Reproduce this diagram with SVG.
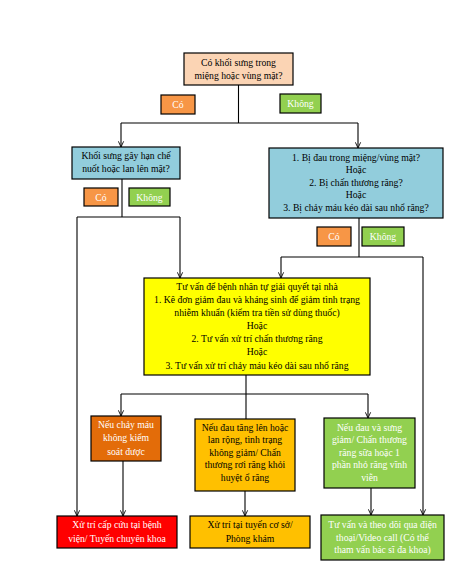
<svg xmlns="http://www.w3.org/2000/svg" width="460" height="578" viewBox="0 0 460 578">
<defs>
<marker id="arr" viewBox="0 0 8 8" refX="7.5" refY="4" markerWidth="7" markerHeight="7" markerUnits="userSpaceOnUse" orient="auto">
<path d="M1,1 L7.5,4 L1,7" fill="none" stroke="#000" stroke-width="1"/>
</marker>
<style>
rect{stroke:#000;stroke-width:1.2}
text{font-family:"Liberation Serif","Times New Roman",serif;font-size:9.7px;text-anchor:middle;fill:#000}
.w{fill:#fff}
.c path{fill:none;stroke:#000;stroke-width:1.1}
</style>
</defs>
<rect width="460" height="578" fill="#fff" style="stroke:none"/>
<g class="c" id="connectors">
<path d="M238.5 85V123M121 123H358"/>
<path d="M121 123V147" marker-end="url(#arr)"/>
<path d="M358 123V148" marker-end="url(#arr)"/>
<path d="M122 179V217M77 217H180"/>
<path d="M77 217V516" marker-end="url(#arr)"/>
<path d="M180 217V278" marker-end="url(#arr)"/>
<path d="M359 218V257M281 257H423"/>
<path d="M281 257V278" marker-end="url(#arr)"/>
<path d="M423 257V515" marker-end="url(#arr)"/>
<path d="M246 375V419M121 394H368"/>
<path d="M121 394V416" marker-end="url(#arr)"/>
<path d="M368 394V418" marker-end="url(#arr)"/>
<path d="M123 461V516" marker-end="url(#arr)"/>
<path d="M245 491V516" marker-end="url(#arr)"/>
<path d="M371 488V515" marker-end="url(#arr)"/>
</g>
<g id="q1">
<rect x="184" y="53" width="109" height="32" fill="#FBD4B4"/>
<text x="238.5" y="65.5">Có khối sưng trong</text>
<text x="238.5" y="78.5">miệng hoặc vùng mặt?</text>
</g>
<g id="q1-yes">
<rect x="161" y="95" width="34" height="19" fill="#F79646"/>
<text class="w" x="178" y="108">Có</text>
</g>
<g id="q1-no">
<rect x="280" y="94" width="41" height="19" fill="#92D050"/>
<text class="w" x="300.5" y="107">Không</text>
</g>
<g id="q2">
<rect x="72" y="147" width="108" height="32" fill="#92CDDC"/>
<text x="126" y="159">Khối sưng gây hạn chế</text>
<text x="126" y="172">nuốt hoặc lan lên mặt?</text>
</g>
<g id="q2-yes">
<rect x="84" y="188" width="34" height="18" fill="#F79646"/>
<text class="w" x="101" y="200.5">Có</text>
</g>
<g id="q2-no">
<rect x="129" y="188" width="41" height="18" fill="#92D050"/>
<text class="w" x="149.5" y="200.5">Không</text>
</g>
<g id="q3">
<rect x="269" y="148" width="174" height="70" fill="#92CDDC"/>
<text x="356" y="160.5">1. Bị đau trong miệng/vùng mặt?</text>
<text x="356" y="173">Hoặc</text>
<text x="356" y="185.5">2. Bị chấn thương răng?</text>
<text x="356" y="198">Hoặc</text>
<text x="356" y="210.5">3. Bị chảy máu kéo dài sau nhổ răng?</text>
</g>
<g id="q3-yes">
<rect x="317" y="227" width="34" height="19" fill="#F79646"/>
<text class="w" x="334" y="240">Có</text>
</g>
<g id="q3-no">
<rect x="362" y="227" width="42" height="19" fill="#92D050"/>
<text class="w" x="383" y="240">Không</text>
</g>
<g id="home">
<rect x="144" y="278" width="226" height="97" fill="#FFFF00"/>
<text x="257" y="289.5">Tư vấn để bệnh nhân tự giải quyết tại nhà</text>
<text x="257" y="302.7">1. Kê đơn giảm đau và kháng sinh để giảm tình trạng</text>
<text x="257" y="315.8">nhiễm khuẩn (kiểm tra tiền sử dùng thuốc)</text>
<text x="257" y="329">Hoặc</text>
<text x="257" y="342.2">2. Tư vấn xử trí chấn thương răng</text>
<text x="257" y="355.3">Hoặc</text>
<text x="257" y="368.5">3. Tư vấn xử trí chảy máu kéo dài sau nhổ răng</text>
</g>
<g id="bleed">
<rect x="91" y="416" width="70" height="45" fill="#E36C09"/>
<text class="w" x="126" y="427.5">Nếu chảy máu</text>
<text class="w" x="126" y="441">không kiểm</text>
<text class="w" x="126" y="454.5">soát được</text>
</g>
<g id="worse">
<rect x="195" y="419" width="100" height="72" fill="#FFC000"/>
<text x="245" y="430.5">Nếu đau tăng lên hoặc</text>
<text x="245" y="443">lan rộng, tình trạng</text>
<text x="245" y="455.5">không giảm/ Chấn</text>
<text x="245" y="468">thương rơi răng khỏi</text>
<text x="245" y="480.5">huyệt ổ răng</text>
</g>
<g id="better">
<rect x="324" y="418" width="91" height="70" fill="#92D050"/>
<text class="w" x="369.5" y="430.5">Nếu đau và sưng</text>
<text class="w" x="369.5" y="443">giảm/ Chấn thương</text>
<text class="w" x="369.5" y="455.5">răng sữa hoặc 1</text>
<text class="w" x="369.5" y="468">phần nhỏ răng vĩnh</text>
<text class="w" x="369.5" y="480.5">viễn</text>
</g>
<g id="emergency">
<rect x="57" y="516" width="120" height="32" fill="#FF0000"/>
<text class="w" x="117" y="527.5">Xử trí cấp cứu tại bệnh</text>
<text class="w" x="117" y="541.5">viện/ Tuyến chuyên khoa</text>
</g>
<g id="clinic">
<rect x="190" y="516" width="120" height="32" fill="#FFC000"/>
<text x="250" y="527.5">Xử trí tại tuyến cơ sở/</text>
<text x="250" y="541.5">Phòng khám</text>
</g>
<g id="remote">
<rect x="321" y="515" width="123" height="45" fill="#92D050"/>
<text class="w" x="382.5" y="527.5">Tư vấn và theo dõi qua điện</text>
<text class="w" x="382.5" y="540.5">thoại/Video call (Có thể</text>
<text class="w" x="382.5" y="553">tham vấn bác sĩ đa khoa)</text>
</g>
</svg>
